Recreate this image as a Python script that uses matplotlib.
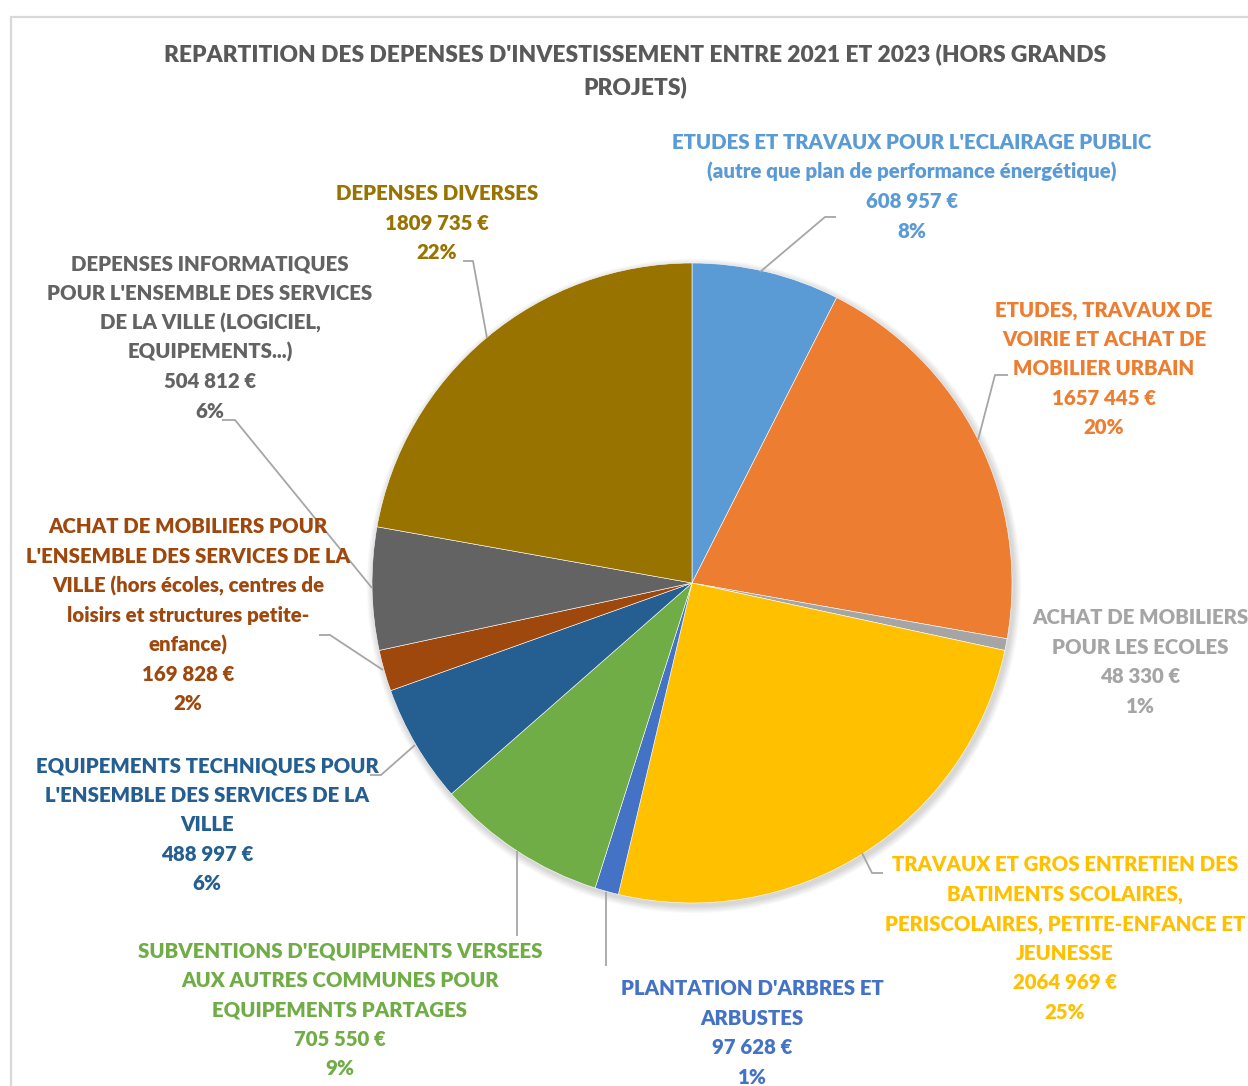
import matplotlib
matplotlib.use("Agg")
import matplotlib.pyplot as plt
from matplotlib.patches import Circle, Rectangle
from matplotlib import font_manager

# ---------------- data ----------------
categories = [
    ["ETUDES ET TRAVAUX POUR L'ECLAIRAGE PUBLIC", "(autre que plan de performance énergétique)"],
    ["ETUDES, TRAVAUX DE", "VOIRIE ET ACHAT DE", "MOBILIER URBAIN"],
    ["ACHAT DE MOBILIERS", "POUR LES ECOLES"],
    ["TRAVAUX ET GROS ENTRETIEN DES", "BATIMENTS SCOLAIRES,", "PERISCOLAIRES, PETITE-ENFANCE ET", "JEUNESSE"],
    ["PLANTATION D'ARBRES ET", "ARBUSTES"],
    ["SUBVENTIONS D'EQUIPEMENTS VERSEES", "AUX AUTRES COMMUNES POUR", "EQUIPEMENTS PARTAGES"],
    ["EQUIPEMENTS TECHNIQUES POUR", "L'ENSEMBLE DES SERVICES DE LA", "VILLE"],
    ["ACHAT DE MOBILIERS POUR", "L'ENSEMBLE DES SERVICES DE LA", "VILLE (hors écoles, centres de",
     "loisirs et structures petite-", "enfance)"],
    ["DEPENSES INFORMATIQUES", "POUR L'ENSEMBLE DES SERVICES", "DE LA VILLE (LOGICIEL,", "EQUIPEMENTS...)"],
    ["DEPENSES DIVERSES"],
]
amounts = [608957, 1657445, 48330, 2064969, 97628, 705550, 488997, 169828, 504812, 1809735]
percent_labels = ["8%", "20%", "1%", "25%", "1%", "9%", "6%", "2%", "6%", "22%"]
title_lines = ["REPARTITION DES DEPENSES D'INVESTISSEMENT ENTRE 2021 ET 2023 (HORS GRANDS", "PROJETS)"]

# ---------------- style / layout ----------------
colors = ["#5B9BD5", "#ED7D31", "#A5A5A5", "#FFC000", "#4472C4",
          "#70AD47", "#255E91", "#9E480E", "#636363", "#997300"]
label_colors = colors
W, H = 1248, 1086
CX, CY, R = 692, 583, 320
FONT = ["Lato", "DejaVu Sans"]
WEIGHT = "heavy"

# label centre x, first line centre y (pixels from top)
label_pos = [(912, 142), (1104, 309), (1140, 617), (1065, 864), (752, 988),
             (340, 950), (207, 765), (188, 526), (210, 263), (437, 193)]
PITCH = 29.5
leaders = [
    [(760, 272), (825, 217), (836, 217)],
    [(978, 440), (995, 375), (1008, 375)],
    None,
    [(862, 853), (872, 873), (883, 873)],
    [(606, 892), (606, 966)],
    [(517, 851), (517, 936)],
    [(415, 745), (381, 775), (370, 775)],
    [(383, 670), (330, 635), (319, 635)],
    [(372, 588), (235, 420), (222, 420)],
    [(487, 338), (473, 261), (463, 261)],
]


def P(x, y):
    return x, H - y


fig = plt.figure(figsize=(W / 100, H / 100), dpi=100)
ax = fig.add_axes([0, 0, 1, 1])
ax.set_xlim(0, W)
ax.set_ylim(0, H)
ax.set_aspect("equal")
ax.axis("off")

renderer = fig.canvas.get_renderer()


def text_width(s, size):
    t = fig.text(0, 0, s, fontsize=size, family=FONT, weight=WEIGHT)
    w = t.get_window_extent(renderer).width
    t.remove()
    return w


label_size = 16 * 481 / text_width(categories[0][0], 16)
title_size = 16 * 946 / text_width(title_lines[0], 16)

# frame
ax.add_patch(Rectangle(P(11, 1100), 1300, 1083, fill=False, ec="#D9D9D9", lw=1.6, zorder=0))

# shadow
for i in range(8):
    ax.add_patch(Circle(P(CX + 2, CY + 3), R + 1 + i * 0.9, color="black", alpha=0.018, lw=0, zorder=1))

ax.pie(amounts, colors=colors, startangle=90, counterclock=False, center=P(CX, CY), radius=R,
       wedgeprops=dict(edgecolor="white", linewidth=0.4, zorder=2), frame=True)
ax.set_xlim(0, W)
ax.set_ylim(0, H)
ax.axis("off")


def fmt_amount(v):
    return f"{v // 1000} {v % 1000:03d} €"


cap = 0.36 * label_size * 100 / 72  # half cap height in px (approx)
for i, name in enumerate(categories):
    lines = list(name) + [fmt_amount(amounts[i]), percent_labels[i]]
    x0, y0 = label_pos[i]
    for k, ln in enumerate(lines):
        ax.text(*P(x0, y0 + k * PITCH + cap), ln, ha="center", va="baseline",
                fontsize=label_size, family=FONT, weight=WEIGHT, color=label_colors[i], zorder=5)
    if leaders[i]:
        xs, ys = zip(*[P(x, y) for x, y in leaders[i]])
        ax.plot(xs, ys, color="#A6A6A6", lw=1.3, zorder=4, solid_capstyle="butt")

tcap = 0.36 * title_size * 100 / 72
for k, ln in enumerate(title_lines):
    ax.text(*P(635, 53 + k * 33 + tcap), ln, ha="center", va="baseline",
            fontsize=title_size, family=FONT, weight=WEIGHT, color="#595959")

fig.savefig("out.png", dpi=100)
